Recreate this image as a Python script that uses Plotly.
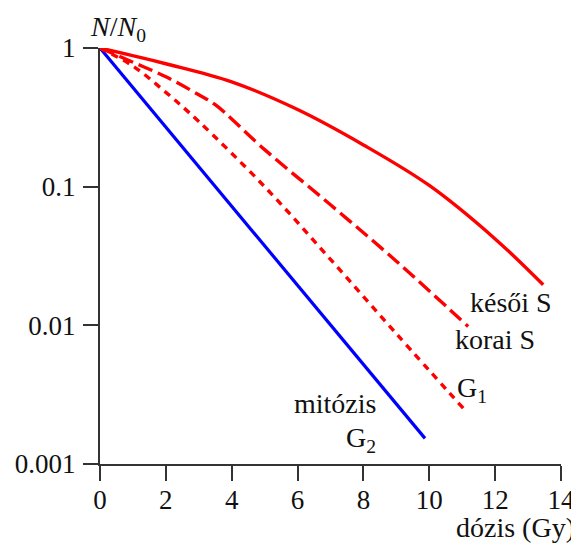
import plotly.graph_objects as go

# Data (dose in Gy, surviving fraction N/N0)
mitozis_x = [0, 9.87]
mitozis_y = [1.0, 0.00153]

g1_x = [0, 1, 2, 3, 5, 7, 9, 11.08]
g1_y = [1.0, 0.741, 0.479, 0.295, 0.100, 0.0299, 0.0087, 0.00245]

korai_x = [0, 1, 2, 3, 3.5, 5, 7, 9, 11.18]
korai_y = [1.0, 0.79, 0.62, 0.46, 0.39, 0.185, 0.074, 0.029, 0.0098]

kesoi_x = [0, 2, 4, 6, 8, 10, 12, 13.46]
kesoi_y = [1.0, 0.77, 0.57, 0.36, 0.20, 0.102, 0.042, 0.0196]

x_ticks = [0, 2, 4, 6, 8, 10, 12, 14]
y_ticks = [1, 0.1, 0.01, 0.001]
y_ticktext = ["1", "0.1", "0.01", "0.001"]

FONT = "Liberation Serif, Times New Roman, serif"
TXT = "#111111"
AX = "#333333"
FS = 28
FS_TICK = 27

fig = go.Figure()
fig.add_trace(go.Scatter(x=mitozis_x, y=mitozis_y, mode="lines",
                         line=dict(color="#0000ff", width=3.2), cliponaxis=False))
fig.add_trace(go.Scatter(x=g1_x, y=g1_y, mode="lines",
                         line=dict(color="#ff0000", width=3.4, dash="7px,6px", shape="spline"),
                         cliponaxis=False))
fig.add_trace(go.Scatter(x=korai_x, y=korai_y, mode="lines",
                         line=dict(color="#ff0000", width=3.4, dash="15px,6px", shape="spline"),
                         cliponaxis=False))
fig.add_trace(go.Scatter(x=kesoi_x, y=kesoi_y, mode="lines",
                         line=dict(color="#ff0000", width=3.4, shape="spline"),
                         cliponaxis=False))

# the page body adds an 8px offset, so margins are reduced on top/left accordingly
fig.update_layout(
    width=579, height=545,
    margin=dict(l=92, r=26, t=40, b=89),
    paper_bgcolor="white", plot_bgcolor="white",
    showlegend=False,
    font=dict(family=FONT, size=FS, color=TXT),
)
fig.update_xaxes(range=[0, 14], tickvals=x_ticks, showgrid=False, zeroline=False,
                 automargin=False,
                 showline=True, linecolor=AX, linewidth=2,
                 ticks="outside", ticklen=15, tickwidth=2, tickcolor=AX,
                 ticklabelstandoff=-4,
                 tickfont=dict(family=FONT, size=FS_TICK, color=TXT))
fig.update_yaxes(type="log", range=[-3, 0], tickvals=y_ticks, ticktext=y_ticktext,
                 showgrid=False, zeroline=False, automargin=False,
                 showline=True, linecolor=AX, linewidth=2,
                 ticks="outside", ticklen=15, tickwidth=2, tickcolor=AX,
                 ticklabelstandoff=2,
                 tickfont=dict(family=FONT, size=FS_TICK, color=TXT))

ann = dict(showarrow=False, font=dict(family=FONT, size=FS, color=TXT))
fig.add_annotation(text="<i>N</i>/<i>N</i><sub>0</sub>", xref="paper", yref="paper",
                   x=-0.025, y=1.0, xanchor="left", yanchor="bottom", yshift=0, **ann)
fig.add_annotation(text="dózis (Gy)", xref="paper", yref="paper",
                   x=1.035, y=-0.152, xanchor="right", yanchor="middle", **ann)
fig.add_annotation(text="késői S", x=11.18, y=-1.838, xanchor="left", yanchor="middle", **ann)
fig.add_annotation(text="korai S", x=10.72, y=-2.105, xanchor="left", yanchor="middle", **ann)
fig.add_annotation(text="G<sub>1</sub>", x=10.78, y=-2.46, xanchor="left", yanchor="middle", **ann)
fig.add_annotation(text="mitózis", x=8.44, y=-2.567, xanchor="right", yanchor="middle", **ann)
fig.add_annotation(text="G<sub>2</sub>", x=8.44, y=-2.82, xanchor="right", yanchor="middle", **ann)

fig.write_html("out.html")
